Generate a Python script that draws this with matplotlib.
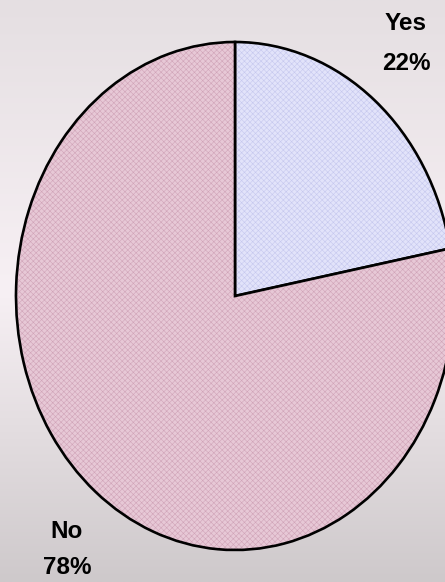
import numpy as np
import matplotlib.pyplot as plt
from matplotlib.colors import LinearSegmentedColormap, to_rgba

labels = ["Yes", "No"]
shares = [22, 78]
fills = ["#e2e3fa", "#e7c8d6"]
hatch_cols = ["#c6c8ee", "#d0a4b8"]

W, H = 445, 582
fig = plt.figure(figsize=(W / 100, H / 100), dpi=100)

# background gradient
bg = fig.add_axes([0, 0, 1, 1])
bg.set_axis_off()
cmap = LinearSegmentedColormap.from_list(
    "bg", [(0.0, "#e5dfe2"), (0.5, "#f7f0f4"), (1.0, "#cec9cb")])
grad = np.linspace(0, 1, 256).reshape(-1, 1)
bg.imshow(grad, aspect="auto", cmap=cmap, extent=[0, 1, 0, 1], origin="upper")

# pie axes, stretched so the pie is an ellipse
cx, cy, rx, ry = 235, 296, 219, 254
ax = fig.add_axes([(cx - rx) / W, 1 - (cy + ry) / H, 2 * rx / W, 2 * ry / H])

plt.rcParams["hatch.linewidth"] = 0.4
wedges, _ = ax.pie(shares, startangle=90, counterclock=False, radius=1,
                   colors=fills,
                   wedgeprops=dict(edgecolor="black", linewidth=1.9))
for w, hc in zip(wedges, hatch_cols):
    w.set_hatch("xxxxxx")
    w._hatch_color = to_rgba(hc)
ax.set_aspect("auto")
ax.set_xlim(-1, 1)
ax.set_ylim(-1, 1)
ax.set_axis_off()

font = ["Liberation Sans Narrow", "Liberation Sans", "DejaVu Sans"]
pos = {"Yes": (406, 23, 63), "No": (67, 531, 567)}
for lab, s in zip(labels, shares):
    x, y1, y2 = pos[lab]
    fig.text(x / W, 1 - y1 / H, lab, ha="center", va="center",
             fontsize=17.5, fontweight="bold", family=font)
    fig.text(x / W, 1 - y2 / H, f"{s}%", ha="center", va="center",
             fontsize=17.5, fontweight="bold", family=font)

fig.savefig("out.png", dpi=100)
